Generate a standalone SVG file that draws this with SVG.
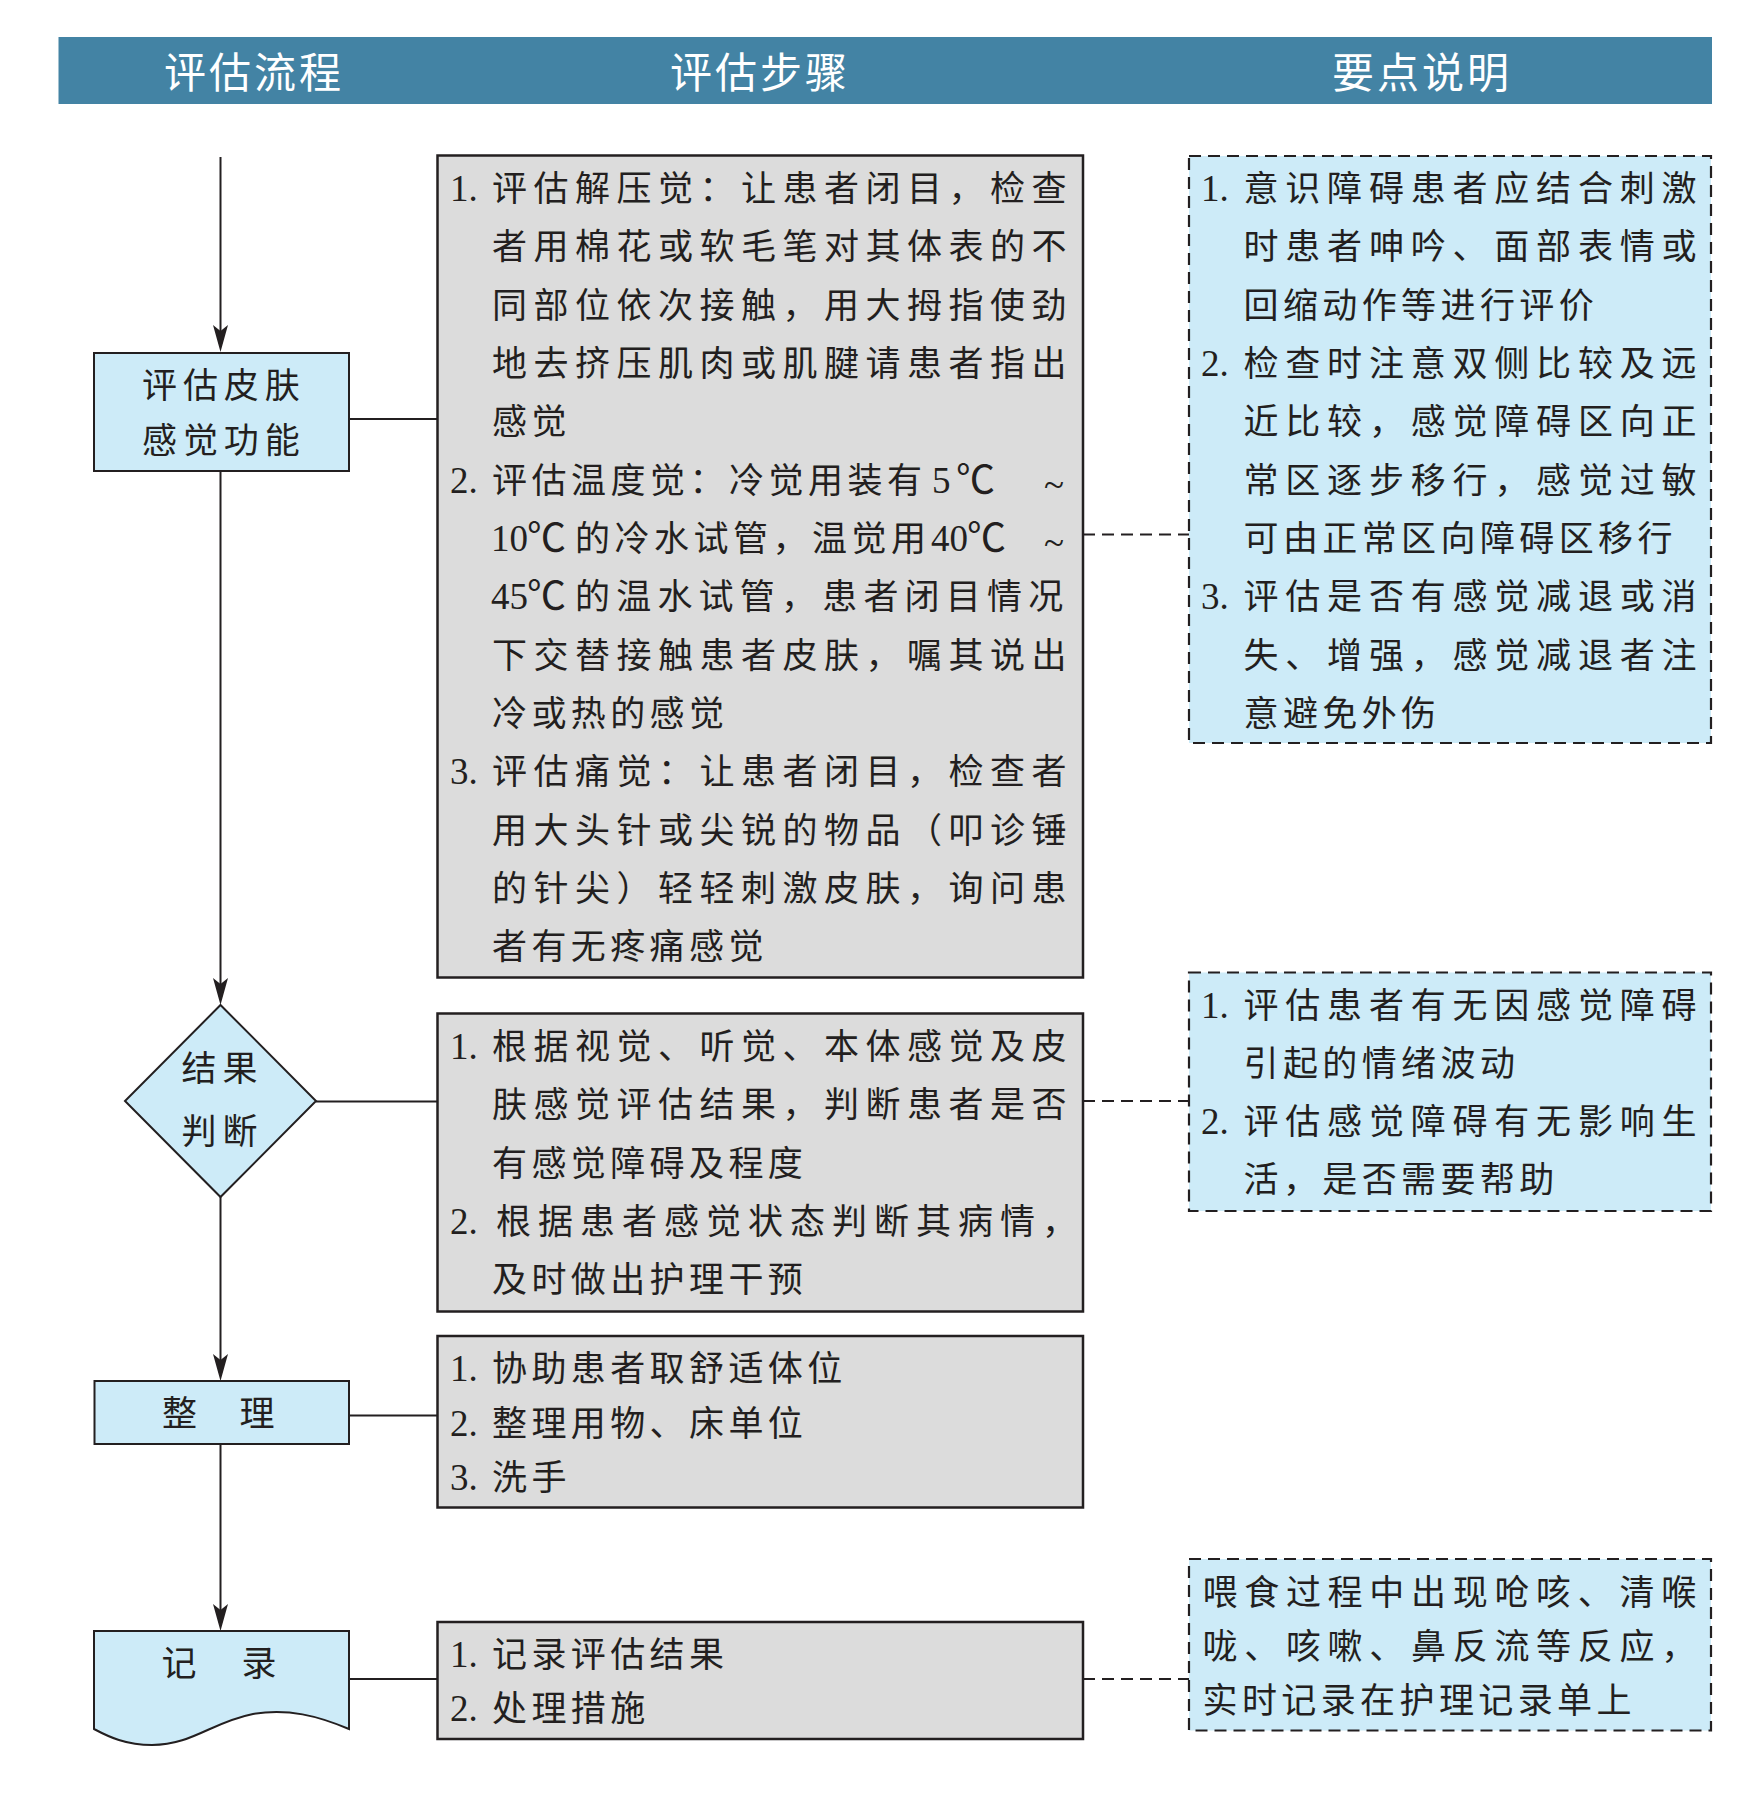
<svg xmlns="http://www.w3.org/2000/svg" width="1759" height="1802" viewBox="0 0 1759 1802">
<style>
.hd{font-family:"Noto Sans CJK SC",sans-serif;font-size:42px;fill:#ffffff;letter-spacing:3px}
.t{font-family:"Noto Sans CJK SC",sans-serif;font-size:35px;fill:#231f20}
.c{font-family:"Noto Sans CJK SC",sans-serif;font-size:39px;fill:#231f20}
.d{font-family:"Liberation Serif","Noto Sans CJK SC",serif;font-size:37px;fill:#231f20}
.j{letter-spacing:6.5px}
.jr{letter-spacing:6.8px}
.n{letter-spacing:4.4px}
.node{fill:#cdebf8;stroke:#231f20;stroke-width:2}
.step{fill:#dcdcdc;stroke:#231f20;stroke-width:2.5}
.note{fill:#cdebf8;stroke:#231f20;stroke-width:2.2;stroke-dasharray:12 7}
.ln{fill:none;stroke:#231f20;stroke-width:2}
.dl{fill:none;stroke:#231f20;stroke-width:2.2;stroke-dasharray:12 7}
</style>
<defs>
<marker id="ah" markerUnits="userSpaceOnUse" markerWidth="40" markerHeight="24" viewBox="-22 -12 34 24" refX="0" refY="0" orient="auto">
<path d="M8,0 L-19,-7.5 L-13,0 L-19,7.5 Z" fill="#231f20"/>
</marker>
</defs>
<rect width="1759" height="1802" fill="#ffffff"/>

<g id="header">
<rect x="58.5" y="37" width="1653.5" height="67" fill="#4383a4"/>
<text class="hd" x="164" y="87.5">评估流程</text>
<text class="hd" x="670" y="87.5">评估步骤</text>
<text class="hd" x="1332" y="87.5">要点说明</text>
</g>

<g id="connectors">
<line class="ln" x1="220.5" y1="157" x2="220.5" y2="344" marker-end="url(#ah)"/>
<line class="ln" x1="220.5" y1="471" x2="220.5" y2="997" marker-end="url(#ah)"/>
<line class="ln" x1="220.5" y1="1197" x2="220.5" y2="1373" marker-end="url(#ah)"/>
<line class="ln" x1="220.5" y1="1444" x2="220.5" y2="1623" marker-end="url(#ah)"/>
<line class="ln" x1="349" y1="419" x2="437.5" y2="419"/>
<line class="ln" x1="316" y1="1101.5" x2="437.5" y2="1101.5"/>
<line class="ln" x1="349" y1="1415.5" x2="437.5" y2="1415.5"/>
<line class="ln" x1="349" y1="1679" x2="437.5" y2="1679"/>
<line class="dl" x1="1083" y1="534.5" x2="1189" y2="534.5"/>
<line class="dl" x1="1083" y1="1101" x2="1189" y2="1101"/>
<line class="dl" x1="1083" y1="1679" x2="1189" y2="1679"/>
</g>

<g id="node-assess">
<rect class="node" x="94" y="353" width="255" height="118"/>
<text class="t" x="142" y="397.5" style="letter-spacing:5.9px">评估皮肤</text>
<text class="t" x="142" y="452.5" style="letter-spacing:5.9px">感觉功能</text>
</g>

<g id="node-judge">
<polygon class="node" points="220.5,1005 316,1101 220.5,1197 125,1101"/>
<text class="t" x="181.5" y="1080.5" style="letter-spacing:6px">结果</text>
<text class="t" x="181.5" y="1143.5" style="letter-spacing:6px">判断</text>
</g>

<g id="node-tidy">
<rect class="node" x="94.5" y="1381" width="254.5" height="63"/>
<text class="t" x="162" y="1425.5" style="letter-spacing:3.8px">整　理</text>
</g>

<g id="node-record">
<path class="node" d="M94,1631 H349 V1729 C318,1716 288,1708 253,1714 C212,1722 192,1745 152,1745 C126,1745 109,1737 94,1729 Z"/>
<text class="t" x="161.5" y="1675.5" style="letter-spacing:5px">记　录</text>
</g>

<g id="step-assess">
<rect class="step" x="437.5" y="155.5" width="645.5" height="822"/>
<text class="d" x="450" y="200.8">1.</text>
<text class="t j" x="492" y="200.8">评估解压觉：让患者闭目，检查</text>
<text class="t j" x="492" y="259.2">者用棉花或软毛笔对其体表的不</text>
<text class="t j" x="492" y="317.5">同部位依次接触，用大拇指使劲</text>
<text class="t j" x="492" y="375.9">地去挤压肌肉或肌腱请患者指出</text>
<text class="t n" x="492" y="434.2">感觉</text>
<text class="d" x="450" y="492.6">2.</text>
<text class="t" x="492" y="492.6" style="letter-spacing:4.5px">评估温度觉：冷觉用装有</text>
<text class="d" x="932" y="492.6">5</text>
<text class="c" x="956" y="492.6">℃</text>
<text class="d" x="1044" y="497">~</text>
<text class="d" x="491" y="550.9">10</text>
<text class="c" x="527" y="550.9">℃</text>
<text class="t" x="575" y="550.9" style="letter-spacing:4.5px">的冷水试管，温觉用</text>
<text class="d" x="931" y="550.9">40</text>
<text class="c" x="967" y="550.9">℃</text>
<text class="d" x="1044" y="555.3">~</text>
<text class="d" x="491" y="609.3">45</text>
<text class="c" x="527" y="609.3">℃</text>
<text class="t" x="575" y="609.3" style="letter-spacing:6.2px">的温水试管，患者闭目情况</text>
<text class="t j" x="492" y="667.6">下交替接触患者皮肤，嘱其说出</text>
<text class="t n" x="492" y="726">冷或热的感觉</text>
<text class="d" x="450" y="784.3">3.</text>
<text class="t j" x="492" y="784.3">评估痛觉：让患者闭目，检查者</text>
<text class="t j" x="492" y="842.7">用大头针或尖锐的物品（叩诊锤</text>
<text class="t j" x="492" y="901">的针尖）轻轻刺激皮肤，询问患</text>
<text class="t n" x="492" y="959.4">者有无疼痛感觉</text>
</g>

<g id="step-judge">
<rect class="step" x="437.5" y="1013.5" width="645.5" height="298"/>
<text class="d" x="450" y="1059">1.</text>
<text class="t j" x="492" y="1059">根据视觉、听觉、本体感觉及皮</text>
<text class="t j" x="492" y="1117.3">肤感觉评估结果，判断患者是否</text>
<text class="t n" x="492" y="1175.6">有感觉障碍及程度</text>
<text class="d" x="450" y="1234">2.</text>
<text class="t" x="496" y="1234" style="letter-spacing:7px">根据患者感觉状态判断其病情，</text>
<text class="t n" x="492" y="1292.3">及时做出护理干预</text>
</g>

<g id="step-tidy">
<rect class="step" x="437.5" y="1336" width="645.5" height="171.5"/>
<text class="d" x="450" y="1381">1.</text>
<text class="t n" x="492" y="1381">协助患者取舒适体位</text>
<text class="d" x="450" y="1436">2.</text>
<text class="t n" x="492" y="1436">整理用物、床单位</text>
<text class="d" x="450" y="1490">3.</text>
<text class="t n" x="492" y="1490">洗手</text>
</g>

<g id="step-record">
<rect class="step" x="437.5" y="1622" width="645.5" height="117"/>
<text class="d" x="450" y="1666.5">1.</text>
<text class="t n" x="492" y="1666.5">记录评估结果</text>
<text class="d" x="450" y="1721">2.</text>
<text class="t n" x="492" y="1721">处理措施</text>
</g>

<g id="note-assess">
<rect class="note" x="1189" y="156" width="522" height="587"/>
<text class="d" x="1201" y="200.8">1.</text>
<text class="t jr" x="1243.5" y="200.8">意识障碍患者应结合刺激</text>
<text class="t jr" x="1243.5" y="259.2">时患者呻吟、面部表情或</text>
<text class="t n" x="1243.5" y="317.5">回缩动作等进行评价</text>
<text class="d" x="1201" y="375.9">2.</text>
<text class="t jr" x="1243.5" y="375.9">检查时注意双侧比较及远</text>
<text class="t jr" x="1243.5" y="434.2">近比较，感觉障碍区向正</text>
<text class="t jr" x="1243.5" y="492.6">常区逐步移行，感觉过敏</text>
<text class="t n" x="1243.5" y="550.9">可由正常区向障碍区移行</text>
<text class="d" x="1201" y="609.3">3.</text>
<text class="t jr" x="1243.5" y="609.3">评估是否有感觉减退或消</text>
<text class="t jr" x="1243.5" y="667.6">失、增强，感觉减退者注</text>
<text class="t n" x="1243.5" y="726">意避免外伤</text>
</g>

<g id="note-judge">
<rect class="note" x="1189" y="972.5" width="522" height="238.5"/>
<text class="d" x="1201" y="1018.3">1.</text>
<text class="t jr" x="1243.5" y="1018.3">评估患者有无因感觉障碍</text>
<text class="t n" x="1243.5" y="1076.3">引起的情绪波动</text>
<text class="d" x="1201" y="1134.3">2.</text>
<text class="t jr" x="1243.5" y="1134.3">评估感觉障碍有无影响生</text>
<text class="t n" x="1243.5" y="1192.3">活，是否需要帮助</text>
</g>

<g id="note-record">
<rect class="note" x="1189" y="1559" width="522" height="171.5"/>
<text class="t" x="1202.5" y="1604.5" style="letter-spacing:6.7px">喂食过程中出现呛咳、清喉</text>
<text class="t" x="1202.5" y="1658.5" style="letter-spacing:6.7px">咙、咳嗽、鼻反流等反应，</text>
<text class="t n" x="1202.5" y="1712.5">实时记录在护理记录单上</text>
</g>
</svg>
